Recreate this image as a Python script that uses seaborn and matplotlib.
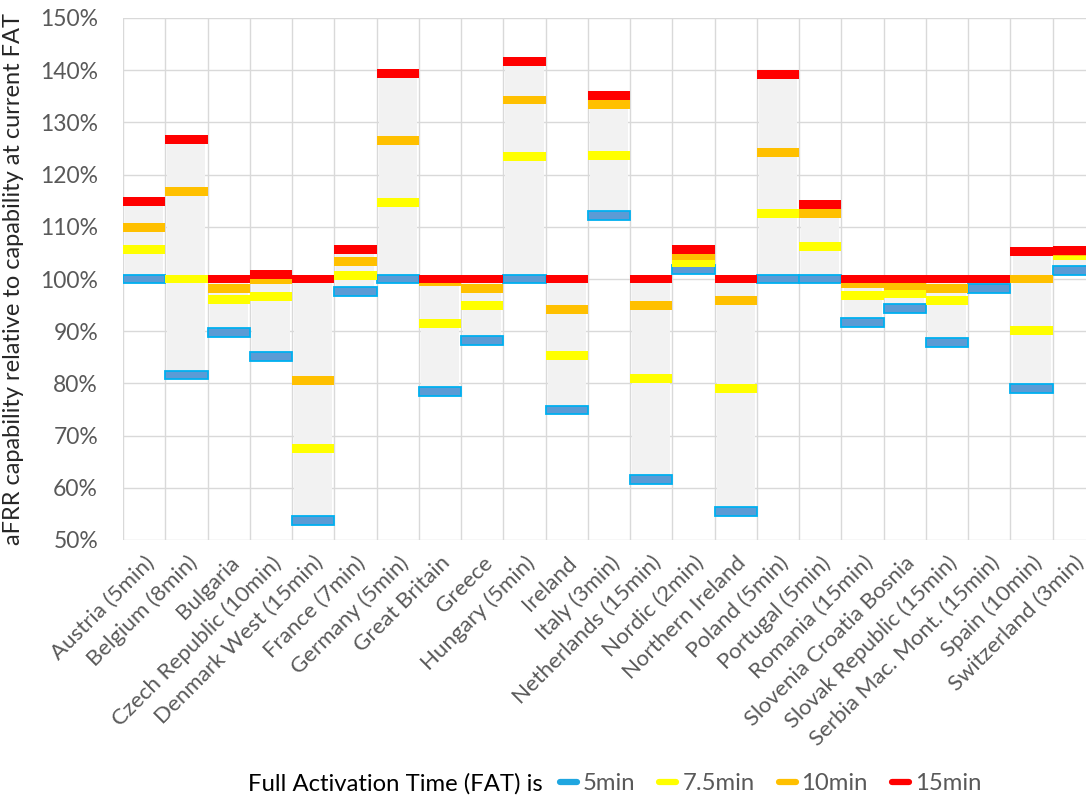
import matplotlib
matplotlib.use("Agg")
import matplotlib.pyplot as plt
from matplotlib.lines import Line2D
from matplotlib.ticker import PercentFormatter
import numpy as np
import pandas as pd
import seaborn as sns

countries = ["Austria (5min)", "Belgium (8min)", "Bulgaria", "Czech Republic (10min)",
             "Denmark West (15min)", "France (7min)", "Germany (5min)", "Great Britain",
             "Greece", "Hungary (5min)", "Ireland", "Italy (3min)", "Netherlands (15min)",
             "Nordic (2min)", "Northern Ireland", "Poland (5min)", "Portugal (5min)",
             "Romania (15min)", "Slovenia Croatia Bosnia", "Slovak Republic (15min)",
             "Serbia Mac. Mont. (15min)", "Spain (10min)", "Switzerland (3min)"]

# capability (%) relative to current FAT, per target FAT
fat_5 = [100, 81.6, 89.8, 85.2, 53.8, 97.6, 100, 78.5, 88.3, 100, 74.9, 112.2,
         61.6, 101.8, 55.5, 100, 100, 91.6, 94.4, 87.8, 98.1, 79.1, 101.6]
fat_75 = [105.6, 100, 96.1, 96.6, 67.5, 100.6, 114.6, 91.5, 94.9, 123.5, 85.4, 123.6,
          81.0, 103.2, 79.0, 112.5, 106.2, 96.9, 97.2, 95.9, 100, 90.2, 104.4]
fat_10 = [109.9, 116.7, 98.2, 99.8, 80.6, 103.3, 126.6, 99.5, 98.2, 134.3, 94.2, 133.4,
          95.0, 104.4, 95.8, 124.2, 112.5, 99.1, 98.8, 98.2, 100, 100, 105.3]
fat_15 = [114.8, 126.8, 100, 100.8, 100, 105.6, 139.3, 100, 100, 141.6, 100, 135.1,
          100, 105.7, 100, 139.1, 114.2, 100, 100, 100, 100, 105.3, 105.5]

fat_labels = ["5min", "7.5min", "10min", "15min"]
fat_colors = ["#5B9BD5", "#FFFF00", "#FFC000", "#FF0000"]
legend_colors = ["#1FA6E0", "#FFFF00", "#FFC000", "#FF0000"]

sns.set_theme(style="whitegrid")
plt.rcParams["font.family"] = ["Lato", "DejaVu Sans"]

df = pd.DataFrame({"country": countries, "5min": fat_5, "7.5min": fat_75,
                   "10min": fat_10, "15min": fat_15})
df["lo"] = df[fat_labels].min(axis=1)
df["span"] = df[fat_labels].max(axis=1) - df["lo"]
thick = 1.7
df["thick"] = thick

fig = plt.figure(figsize=(10.86, 8), dpi=100)
ax = fig.add_axes([0.1133, 0.325, 0.895, 0.6525])

# grey range box
sns.barplot(data=df, x="country", y="span", bottom=df["lo"], color="#F2F2F2",
            saturation=1, width=0.9, errorbar=None, linewidth=0, ax=ax, zorder=2)

# FAT markers
for col, c in zip(fat_labels, fat_colors):
    edge = "#00B0F0" if col == "5min" else c
    lw = 1.3 if col == "5min" else 0
    sns.barplot(data=df, x="country", y="thick", bottom=df[col] - thick / 2, color=c,
                saturation=1, width=1.0, errorbar=None, edgecolor=edge, linewidth=lw,
                ax=ax, zorder=3)

n = len(countries)
ax.set_xlim(-0.5, n - 0.5)
ax.set_ylim(50, 150)
ax.set_yticks(np.arange(50, 151, 10))
ax.yaxis.set_major_formatter(PercentFormatter(decimals=0))
ax.set_xticks(np.arange(-0.5, n, 1), minor=True)
ax.grid(axis="y", color="#D9D9D9", lw=1)
ax.grid(axis="x", which="minor", color="#D9D9D9", lw=1)
ax.set_axisbelow(True)
for s in ax.spines.values():
    s.set_visible(False)

ax.set_xlabel("")
ax.set_ylabel("aFRR capability relative to capability at current FAT",
              fontsize=17, color="#262626")
ax.yaxis.set_label_coords(-0.102, 0.5)
ax.tick_params(axis="y", labelsize=16.5, colors="#595959", length=0, pad=18)
ax.tick_params(axis="x", which="both", length=0, pad=9)
plt.setp(ax.get_xticklabels(), rotation=45, ha="right", rotation_mode="anchor",
         fontsize=16, color="#595959")

fig.text(0.228, 0.02, "Full Activation Time (FAT) is", fontsize=17.2,
         color="black", va="center")
handles = [Line2D([], [], color=c, lw=4.5) for c in legend_colors]
fig.legend(handles, fat_labels, loc="center left", bbox_to_anchor=(0.5157, 0.02),
           ncol=4, frameon=False, handlelength=0.71, handletextpad=0.25,
           columnspacing=1.0, fontsize=17.2, labelcolor="#595959",
           borderaxespad=0, borderpad=0)

fig.savefig("out.png", dpi=100)
